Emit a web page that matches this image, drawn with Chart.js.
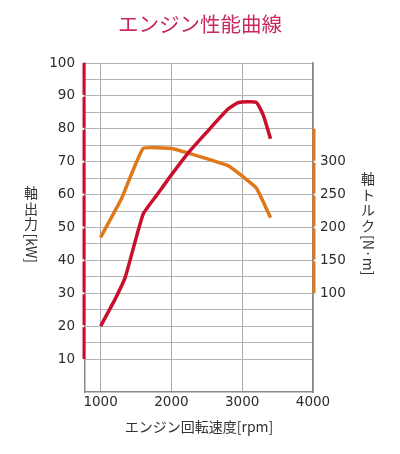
<!DOCTYPE html>
<html>
<head>
<meta charset="utf-8">
<script src="https://cdn.jsdelivr.net/npm/chart.js@4"></script>
<style>
  html, body { margin: 0; padding: 0; background: #fff; }
</style>
</head>
<body>
<canvas id="chart" width="400" height="454"></canvas>
<script>
function $(id) {
  return document.getElementById(id);
}

// engine speed (rpm) / shaft power (kW)
const rpmPower = [1000, 1200, 1350, 1600, 1800, 2000, 2250, 2500, 2800, 2950, 3200, 3300, 3400];
const powerKw = [20, 28, 35, 54, 60, 66, 73, 79, 86, 88, 88, 84, 77];

// engine speed (rpm) / shaft torque (N·m)
const rpmTorque = [1000, 1300, 1600, 2000, 2800, 3200, 3400];
const torqueNm = [185, 245, 320, 320, 294, 260, 215];

const xTicks = [1000, 2000, 3000, 4000];
const powerTicks = [10, 20, 30, 40, 50, 60, 70, 80, 90, 100];
const torqueTicks = [100, 150, 200, 250, 300];
const torqueBarTop = 350;

const powerTitle = "軸出力[kW]";
const torqueTitle = "軸トルク[N·m]";

const RED = "#c8102e";
const ORANGE = "#e0781a";

// coloured bars beside the two value axes, broken at each labelled value
const axisBars = {
  id: "axisBars",
  afterDatasetsDraw: (chart) => {
    const { ctx, chartArea } = chart;
    const seg = (scale, vals, x, color) => {
      ctx.save();
      ctx.strokeStyle = color;
      ctx.lineWidth = 3;
      for (let i = 0; i < vals.length - 1; i++) {
        const a = scale.getPixelForValue(vals[i]);
        const b = scale.getPixelForValue(vals[i + 1]);
        const g0 = i === 0 ? 0 : 1;
        const g1 = i === vals.length - 2 ? 0 : 1;
        ctx.beginPath();
        ctx.moveTo(x, a - g0);
        ctx.lineTo(x, b + g1);
        ctx.stroke();
      }
      ctx.restore();
    };
    seg(chart.scales.y, powerTicks, chartArea.left - 1, RED);
    seg(chart.scales.y1, torqueTicks.concat([torqueBarTop]), chartArea.right + 1, ORANGE);
  },
};

// vertical (tategaki) axis titles: kanji/kana upright, latin turned 90deg
function drawVertical(ctx, text, cx, top, size) {
  ctx.save();
  ctx.font = size + 'px "Noto Sans CJK JP"';
  ctx.fillStyle = "#333";
  ctx.textBaseline = "middle";
  let y = top;
  const runs = text.match(/[\u2E80-\uFFEF]|[^\u2E80-\uFFEF]+/g);
  runs.forEach((r) => {
    if (/[\u2E80-\uFFEF]/.test(r)) {
      ctx.textAlign = "center";
      ctx.fillText(r, cx, y + size / 2);
      y += size + 1.5;
    } else {
      const w = ctx.measureText(r).width;
      ctx.save();
      ctx.translate(cx, y);
      ctx.rotate(Math.PI / 2);
      ctx.textAlign = "left";
      ctx.fillText(r, 1, 0);
      ctx.restore();
      y += w + 2;
    }
  });
  ctx.restore();
}

const verticalTitles = {
  id: "verticalTitles",
  afterDraw: (chart) => {
    drawVertical(chart.ctx, powerTitle, 31, 186, 14);
    drawVertical(chart.ctx, torqueTitle, 368, 172, 14);
  },
};

const tickFont = { family: "DejaVu Sans", size: 13.5 };
const jpFont = { family: "Noto Sans CJK JP", size: 14 };

new Chart($("chart"), {
  type: "line",
  data: {
    datasets: [
      {
        label: "軸出力",
        data: rpmPower.map((x, i) => ({ x: x, y: powerKw[i] })),
        borderColor: RED,
        borderWidth: 3.5,
        pointRadius: 0,
        tension: 0.15,
        yAxisID: "y",
      },
      {
        label: "軸トルク",
        data: rpmTorque.map((x, i) => ({ x: x, y: torqueNm[i] })),
        borderColor: ORANGE,
        borderWidth: 3.5,
        pointRadius: 0,
        tension: 0.1,
        yAxisID: "y1",
      },
    ],
  },
  options: {
    responsive: false,
    animation: false,
    layout: { padding: 0 },
    plugins: {
      legend: { display: false },
      tooltip: { enabled: false },
      title: {
        display: true,
        text: "エンジン性能曲線",
        color: "#c82a5e",
        font: { family: "Noto Sans CJK JP", size: 20.5, weight: "normal" },
        padding: { top: 12, bottom: 26.4 },
      },
    },
    scales: {
      x: {
        type: "linear",
        min: 780,
        max: 4000,
        afterBuildTicks: (s) => {
          s.ticks = xTicks.map((v) => ({ value: v }));
        },
        afterFit: (s) => {
          s.height = 62;
        },
        ticks: {
          color: "#2b2b2b",
          font: tickFont,
          padding: 2,
          maxRotation: 0,
          callback: (v) => String(v),
        },
        grid: { color: "#a8a8a8", drawTicks: false },
        border: { color: "#888", width: 1.5 },
        title: {
          display: true,
          text: "エンジン回転速度[rpm]",
          color: "#333",
          font: jpFont,
          padding: { top: 0, bottom: 18.6 },
        },
      },
      y: {
        position: "left",
        min: 0,
        max: 100,
        afterBuildTicks: (s) => {
          const t = [];
          powerTicks.forEach((v, i) => {
            t.push({ value: v });
            if (i < powerTicks.length - 1) t.push({ value: (v + powerTicks[i + 1]) / 2 });
          });
          s.ticks = t;
        },
        afterFit: (s) => {
          s.width = 85;
        },
        ticks: {
          color: "#2b2b2b",
          font: tickFont,
          padding: 10,
          autoSkip: false,
          callback: (v) => (powerTicks.includes(v) ? String(v) : ""),
        },
        grid: { color: "#b4b4b4", drawTicks: false },
        border: { color: "#888", width: 1.5 },
      },
      y1: {
        position: "right",
        min: -50,
        max: 450,
        afterBuildTicks: (s) => {
          s.ticks = torqueTicks.map((v) => ({ value: v }));
        },
        afterFit: (s) => {
          s.width = 87;
        },
        ticks: {
          color: "#2b2b2b",
          font: tickFont,
          padding: 7,
          callback: (v) => String(v),
        },
        grid: { display: false, drawTicks: false },
        border: { color: "#888", width: 1.5 },
      },
    },
  },
  plugins: [axisBars, verticalTitles],
});
</script>
</body>
</html>
